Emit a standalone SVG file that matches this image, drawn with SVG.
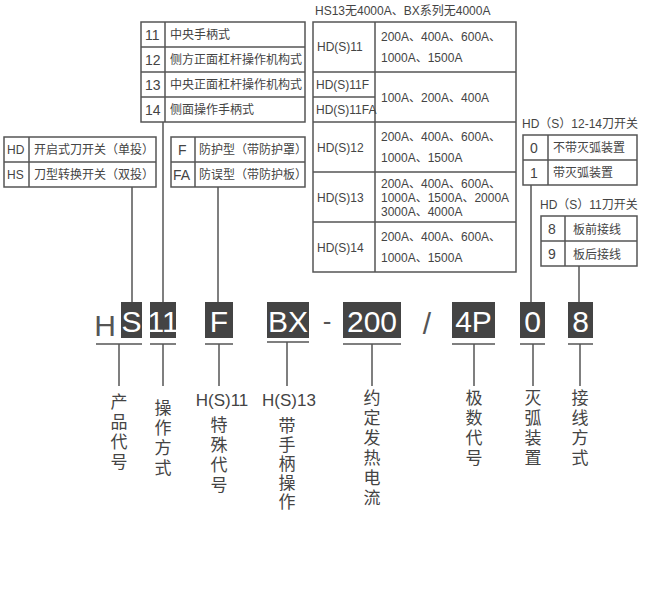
<svg xmlns="http://www.w3.org/2000/svg" width="649" height="609" viewBox="0 0 649 609">
<style>
.b{fill:#fff;stroke:#555;stroke-width:1.5}
.l{stroke:#555;stroke-width:1.5;fill:none}
.t{font-family:"Liberation Sans","Noto Sans CJK SC",sans-serif;fill:#444;font-size:12px}
.n{font-family:"Liberation Sans","Noto Sans CJK SC",sans-serif;fill:#444;font-size:14px}
.d{fill:#444}
.c{font-family:"Liberation Sans",sans-serif;font-size:30px;fill:#fff;text-anchor:middle}
.v{font-family:"Liberation Sans","Noto Sans CJK SC",sans-serif;fill:#444;font-size:17px;text-anchor:middle}
</style>
<rect width="649" height="609" fill="#fff"/>
<g id="op">
<rect class="b" x="141" y="22" width="164" height="100"/>
<path class="l" d="M165 22V122M141 47H305M141 72H305M141 97H305"/>
<text class="n" x="145" y="40">11</text><text class="t" x="170" y="39">中央手柄式</text>
<text class="n" x="145" y="65">12</text><text class="t" x="170" y="64">侧方正面杠杆操作机构式</text>
<text class="n" x="145" y="90">13</text><text class="t" x="170" y="89">中央正面杠杆操作机构式</text>
<text class="n" x="145" y="115">14</text><text class="t" x="170" y="114">侧面操作手柄式</text>
</g>
<g id="prod">
<rect class="b" x="4" y="137" width="152" height="50"/>
<path class="l" d="M29 137V187M4 162H156"/>
<text class="t" x="7" y="154">HD</text><text class="t" x="34" y="154">开启式刀开关（单投）</text>
<text class="t" x="7" y="179">HS</text><text class="t" x="34" y="179">刀型转换开关（双投）</text>
</g>
<g id="spec">
<rect class="b" x="171" y="137" width="134" height="50"/>
<path class="l" d="M195 137V187M171 162H305"/>
<text class="n" x="178" y="155">F</text><text class="t" x="199" y="154">防护型（带防护罩）</text>
<text class="n" x="173" y="180">FA</text><text class="t" x="199" y="179">防误型（带防护板）</text>
</g>
<g id="cur">
<text class="t" x="315" y="15">HS13无4000A、BX系列无4000A</text>
<rect class="b" x="313" y="22" width="203" height="250"/>
<path class="l" d="M375 22V272M313 72H516M313 97H375M313 122H516M313 172H516M313 222H516"/>
<text class="t" x="317" y="51">HD(S)11</text><text class="t" x="381" y="41">200A、400A、600A、</text><text class="t" x="381" y="62">1000A、1500A</text>
<text class="t" x="316" y="89" font-size="11">HD(S)11F</text><text class="t" x="316" y="114" font-size="11">HD(S)11FA</text><text class="t" x="381" y="102">100A、200A、400A</text>
<text class="t" x="317" y="152">HD(S)12</text><text class="t" x="381" y="141">200A、400A、600A、</text><text class="t" x="381" y="162">1000A、1500A</text>
<text class="t" x="317" y="202">HD(S)13</text><text class="t" x="381" y="188">200A、400A、600A、</text><text class="t" x="381" y="202">1000A、1500A、2000A</text><text class="t" x="381" y="216">3000A、4000A</text>
<text class="t" x="317" y="252">HD(S)14</text><text class="t" x="381" y="241">200A、400A、600A、</text><text class="t" x="381" y="262">1000A、1500A</text>
</g>
<g id="arc">
<text class="t" x="522" y="128">HD（S）12-14刀开关</text>
<rect class="b" x="523" y="135" width="114" height="50"/>
<path class="l" d="M548 135V185M523 160H637"/>
<text class="n" x="530" y="153">0</text><text class="t" x="553" y="152">不带灭弧装置</text>
<text class="n" x="530" y="178">1</text><text class="t" x="553" y="177">带灭弧装置</text>
</g>
<g id="wire">
<text class="t" x="540" y="209">HD（S）11刀开关</text>
<rect class="b" x="541" y="216" width="96" height="50"/>
<path class="l" d="M565 216V266M541 241H637"/>
<text class="n" x="548" y="234">8</text><text class="t" x="573" y="234">板前接线</text>
<text class="n" x="548" y="259">9</text><text class="t" x="573" y="259">板后接线</text>
</g>
<g id="code">
<text x="105" y="336" font-family="Liberation Sans,sans-serif" font-size="30" fill="#555" text-anchor="middle">H</text>
<rect class="d" x="121" y="302" width="21" height="36"/><text class="c" x="131.5" y="332">S</text>
<rect class="d" x="150" y="302" width="26" height="36"/><text class="c" x="163" y="332">11</text>
<rect class="d" x="205" y="302" width="28" height="36"/><text class="c" x="219" y="332">F</text>
<rect class="d" x="267" y="302" width="42" height="36"/><text class="c" x="288" y="332">BX</text>
<text x="327" y="330" font-family="Liberation Sans,sans-serif" font-size="26" fill="#555" text-anchor="middle">-</text>
<rect class="d" x="343" y="302" width="58" height="36"/><text class="c" x="372" y="332">200</text>
<text x="427" y="334" font-family="Liberation Sans,sans-serif" font-size="30" fill="#555" text-anchor="middle">/</text>
<rect class="d" x="452" y="302" width="43" height="36"/><text class="c" x="473.5" y="332">4P</text>
<rect class="d" x="520" y="302" width="25" height="36"/><text class="c" x="532.5" y="332">0</text>
<rect class="d" x="568" y="302" width="25" height="36"/><text class="c" x="580.5" y="332">8</text>
</g>
<g id="connectors">
<path class="l" d="M132 187V302M163 122V302M218 187V302M531 185V302M579 266V302"/>
<path class="l" d="M96 344H142M119 344V386M150 344H176M163 344V386M205 344H233M219 344V386M267 342H309M287 342V386M343 344H401M372 344V386M452 344H495M474 344V386M520 344H545M533 344V386M568 344H593M580 344V386"/>
</g>
<g id="labels">
<text class="v"><tspan x="119" y="408">产</tspan><tspan x="119" y="428">品</tspan><tspan x="119" y="448">代</tspan><tspan x="119" y="468">号</tspan></text>
<text class="v"><tspan x="163" y="414">操</tspan><tspan x="163" y="434">作</tspan><tspan x="163" y="454">方</tspan><tspan x="163" y="474">式</tspan></text>
<text class="v" x="222" y="406" font-size="16">H(S)11</text>
<text class="v"><tspan x="219" y="431">特</tspan><tspan x="219" y="451">殊</tspan><tspan x="219" y="471">代</tspan><tspan x="219" y="491">号</tspan></text>
<text class="v" x="289" y="406" font-size="16">H(S)13</text>
<text class="v"><tspan x="287" y="432">带</tspan><tspan x="287" y="451">手</tspan><tspan x="287" y="470">柄</tspan><tspan x="287" y="489">操</tspan><tspan x="287" y="508">作</tspan></text>
<text class="v"><tspan x="372" y="404">约</tspan><tspan x="372" y="424">定</tspan><tspan x="372" y="444">发</tspan><tspan x="372" y="464">热</tspan><tspan x="372" y="484">电</tspan><tspan x="372" y="504">流</tspan></text>
<text class="v"><tspan x="474" y="404">极</tspan><tspan x="474" y="424">数</tspan><tspan x="474" y="444">代</tspan><tspan x="474" y="464">号</tspan></text>
<text class="v"><tspan x="533" y="404">灭</tspan><tspan x="533" y="424">弧</tspan><tspan x="533" y="444">装</tspan><tspan x="533" y="464">置</tspan></text>
<text class="v"><tspan x="580" y="404">接</tspan><tspan x="580" y="424">线</tspan><tspan x="580" y="444">方</tspan><tspan x="580" y="464">式</tspan></text>
</g>
</svg>
